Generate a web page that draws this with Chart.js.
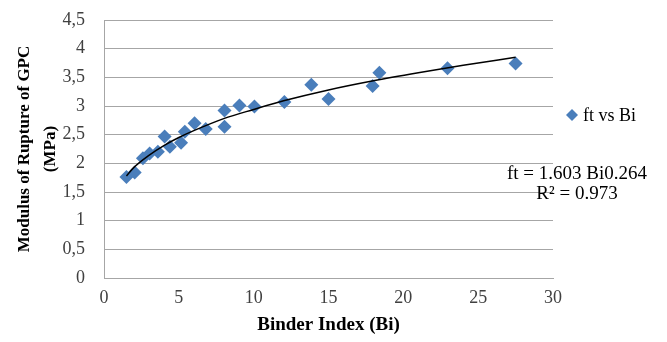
<!doctype html>
<html lang="en">
  <head>
    <meta charset="UTF-8" />
    <title>Modulus of Rupture vs Binder Index</title>
    <style>
      html, body { margin: 0; padding: 0; background: #fff; }
      canvas { display: block; }
    </style>
  </head>

  <body>
    <canvas id="chart" width="667" height="342"></canvas>

    <script src="https://cdn.jsdelivr.net/npm/chart.js@4"></script>

    <script>
      // measured points: binder index vs modulus of rupture
      const binderIndex = [1.5, 2.05, 2.6, 3.05, 3.6, 4.05, 4.4, 5.15, 5.4, 6.05, 6.8, 8.05, 8.05, 9.05, 10.05, 12.05, 13.85, 15.0, 17.95, 18.4, 22.95, 27.5]
      const rupture = [1.76, 1.84, 2.09, 2.17, 2.2, 2.47, 2.29, 2.36, 2.55, 2.7, 2.6, 2.64, 2.92, 3.01, 2.99, 3.07, 3.37, 3.12, 3.35, 3.58, 3.66, 3.74]

      // power trendline as drawn (ft = 1.603 Bi^0.264)
      const trendX = [1.5, 2, 3, 4, 5, 6, 8, 10, 12, 15, 18, 21, 24, 27.5]
      const trendY = [1.78, 1.93, 2.14, 2.31, 2.45, 2.57, 2.78, 2.94, 3.09, 3.28, 3.44, 3.58, 3.71, 3.85]

      const xTicks = [0, 5, 10, 15, 20, 25, 30]
      const yTicks = [0, 0.5, 1, 1.5, 2, 2.5, 3, 3.5, 4, 4.5]

      const seriesName = 'ft vs Bi'
      const equationText = 'ft = 1.603 Bi0.264'
      const rSquaredText = 'R² = 0.973'

      const BLUE = '#4a7ebb'
      const GRID = '#a6a6a6'
      const SERIF = '"Liberation Serif", "DejaVu Serif", serif'

      const ctx = document.getElementById('chart')

      // legend and trendline label, drawn as text on the right
      const sideText = {
        id: 'sideText',
        afterDraw(chart) {
          const c = chart.ctx
          c.save()
          c.fillStyle = BLUE
          c.beginPath()
          c.moveTo(572, 109)
          c.lineTo(578, 115)
          c.lineTo(572, 121)
          c.lineTo(566, 115)
          c.closePath()
          c.fill()

          c.fillStyle = '#000'
          c.font = '18px ' + SERIF
          c.textBaseline = 'middle'
          c.textAlign = 'left'
          c.fillText(seriesName, 583, 116)

          c.font = '19px ' + SERIF
          c.textAlign = 'center'
          c.fillText(equationText, 577, 174)
          c.fillText(rSquaredText, 577, 194)
          c.restore()
        },
      }

      new Chart(ctx, {
        type: 'scatter',
        data: {
          datasets: [
            {
              label: seriesName,
              data: binderIndex.map((x, i) => ({ x, y: rupture[i] })),
              pointStyle: 'rectRot',
              radius: 7,
              backgroundColor: BLUE,
              borderColor: BLUE,
              borderWidth: 0,
              order: 2,
            },
            {
              label: 'Power trend',
              type: 'line',
              data: trendX.map((x, i) => ({ x, y: trendY[i] })),
              borderColor: '#000',
              borderWidth: 1.5,
              pointRadius: 0,
              cubicInterpolationMode: 'monotone',
              fill: false,
              order: 1,
            },
          ],
        },
        options: {
          responsive: false,
          animation: false,
          layout: { padding: { top: 20, right: 114, left: 0, bottom: 0 } },
          plugins: {
            legend: { display: false },
            tooltip: { enabled: false },
          },
          scales: {
            x: {
              type: 'linear',
              min: 0,
              max: 30,
              afterBuildTicks: (scale) => {
                scale.ticks = xTicks.map((v) => ({ value: v }))
              },
              afterFit: (scale) => {
                scale.height = 64
                scale.paddingLeft = 0
                scale.paddingRight = 0
              },
              grid: { display: false, drawTicks: false },
              border: { display: true, color: GRID, width: 1 },
              ticks: {
                color: '#404040',
                font: { family: SERIF, size: 18 },
                padding: 9,
              },
              title: {
                display: true,
                text: 'Binder Index (Bi)',
                color: '#000',
                font: { family: SERIF, size: 19, weight: 'bold' },
                padding: { top: 4, bottom: 6 },
              },
            },
            y: {
              min: 0,
              max: 4.5,
              afterBuildTicks: (scale) => {
                scale.ticks = yTicks.map((v) => ({ value: v }))
              },
              afterFit: (scale) => {
                scale.width = 104
                scale.paddingTop = 0
                scale.paddingBottom = 0
              },
              grid: { color: GRID, lineWidth: 1, drawTicks: false },
              border: { display: true, color: GRID, width: 1 },
              ticks: {
                color: '#404040',
                font: { family: SERIF, size: 18 },
                padding: 19,
                callback: (v) => String(v).replace('.', ','),
              },
              title: {
                display: true,
                text: ['Modulus of Rupture of GPC', '(MPa)'],
                color: '#000',
                font: { family: SERIF, size: 17, weight: 'bold', lineHeight: 1.5 },
                padding: { top: 12, bottom: 0 },
              },
            },
          },
        },
        plugins: [sideText],
      })
    </script>
  </body>
</html>
